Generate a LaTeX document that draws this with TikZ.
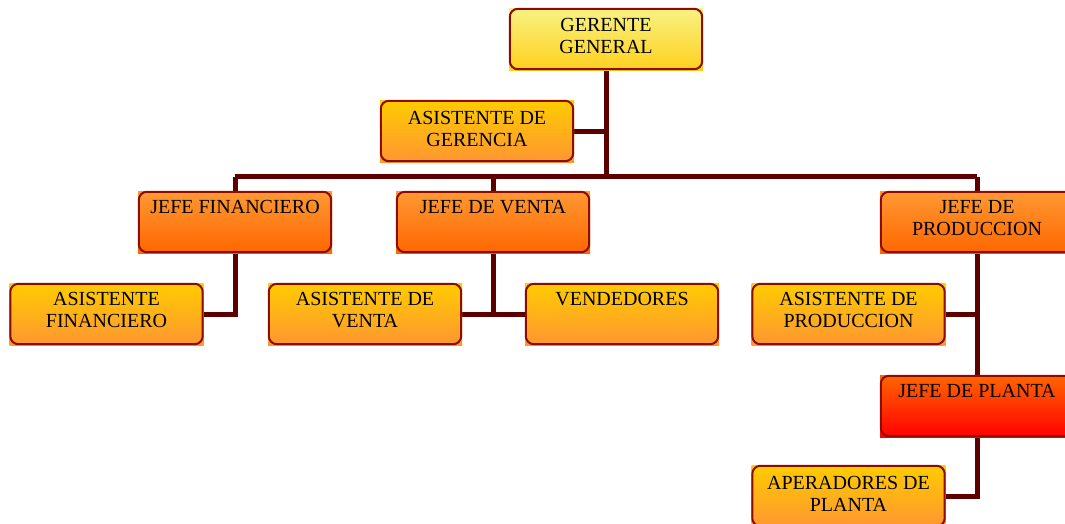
\documentclass[tikz,border=0pt]{standalone}
\usepackage{fontspec}
\setmainfont{Liberation Serif}
\usetikzlibrary{backgrounds}
\definecolor{wire}{RGB}{92,0,0}
\definecolor{rim}{RGB}{140,12,0}
\definecolor{ylTop}{RGB}{248,242,130}
\definecolor{ylBot}{RGB}{255,208,30}
\definecolor{asTop}{RGB}{255,204,0}
\definecolor{asBot}{RGB}{255,150,50}
\definecolor{jfTop}{RGB}{255,153,51}
\definecolor{jfBot}{RGB}{255,102,0}
\definecolor{plTop}{RGB}{255,102,0}
\definecolor{plBot}{RGB}{255,0,0}
\tikzset{
  box/.style={rectangle, inner sep=0pt, minimum width=194pt, minimum height=62pt},
  boss/.style={box, top color=ylTop, bottom color=ylBot},
  helper/.style={box, top color=asTop, bottom color=asBot},
  chief/.style={box, top color=jfTop, bottom color=jfBot},
  plant/.style={box, top color=plTop, bottom color=plBot},
  rimline/.style={draw=rim, line width=2pt, rounded corners=8pt},
  caption/.style={anchor=north, inner sep=0pt, align=center,
    font=\fontsize{20}{22}\selectfont},
  wireline/.style={draw=wire, line width=5pt, line join=miter}
}
\begin{document}
\begin{tikzpicture}[x=1pt,y=-1pt]
\useasboundingbox (0,0) rectangle (1065,523);
\clip (0,0) rectangle (1065,523);

% boxes: square gradient fill
\node[boss]   (gg)  at (606,39)    {};
\node[helper] (ag)  at (477,131)   {};
\node[chief]  (jf)  at (235,222)   {};
\node[chief]  (jv)  at (493,222)   {};
\node[chief]  (jp)  at (977,222)   {};
\node[helper] (af)  at (106.5,314) {};
\node[helper] (av)  at (365,314)   {};
\node[helper] (ve)  at (622,314)   {};
\node[helper] (ap)  at (848.5,314) {};
\node[plant]  (jpl) at (977,406)   {};
\node[helper] (ao)  at (848.5,496) {};

% rounded rims on top of the fills
\foreach \n in {gg,ag,jf,jv,jp,af,av,ve,ap,jpl,ao}{
  \draw[rimline] ([xshift=1pt,yshift=-1pt]\n.north west) rectangle ([xshift=-1pt,yshift=1pt]\n.south east);
}

% junction points of the wiring
\coordinate (bus)  at (606,176.5);
\coordinate (busL) at (235,176.5);
\coordinate (busR) at (977,176.5);
\coordinate (agJ)  at (606,131);
\coordinate (jvJ)  at (493,314);
\coordinate (apJ)  at (977,314);

% wiring behind the boxes
\begin{scope}[on background layer]
\path[wireline] (gg.south) -- (bus);
\path[wireline] (ag.east) -- (agJ);
\path[wireline] (busL) -- (busR);
\path[wireline] (busL) -- (jf.north);
\path[wireline] (jv.north |- bus) -- (jv.north);
\path[wireline] (busR) -- (jp.north);
\path[wireline] (jf.south) |- (af.east);
\path[wireline] (jv.south) -- (jvJ);
\path[wireline] (av.east) -- (ve.west);
\path[wireline] (jp.south) -- (jpl.north);
\path[wireline] (ap.east) -- (apJ);
\path[wireline] (jpl.south) |- (ao.east);
\end{scope}

% captions
\node[caption] (gg-t)  at ([yshift=-10pt]gg.north)  {GERENTE\\GENERAL};
\node[caption] (ag-t)  at ([yshift=-11pt]ag.north)  {ASISTENTE DE\\GERENCIA};
\node[caption] (jf-t)  at ([yshift=-9pt]jf.north)   {JEFE FINANCIERO};
\node[caption] (jv-t)  at ([yshift=-9pt]jv.north)   {JEFE DE VENTA};
\node[caption] (jp-t)  at ([yshift=-9pt]jp.north)   {JEFE DE\\PRODUCCION};
\node[caption] (af-t)  at ([yshift=-9pt]af.north)   {ASISTENTE\\FINANCIERO};
\node[caption] (av-t)  at ([yshift=-9pt]av.north)   {ASISTENTE DE\\VENTA};
\node[caption] (ve-t)  at ([yshift=-9pt]ve.north)   {VENDEDORES};
\node[caption] (ap-t)  at ([yshift=-9pt]ap.north)   {ASISTENTE DE\\PRODUCCION};
\node[caption] (jpl-t) at ([yshift=-9pt]jpl.north)  {JEFE DE PLANTA};
\node[caption] (ao-t)  at ([yshift=-11pt]ao.north)  {APERADORES DE\\PLANTA};
\end{tikzpicture}
\end{document}
